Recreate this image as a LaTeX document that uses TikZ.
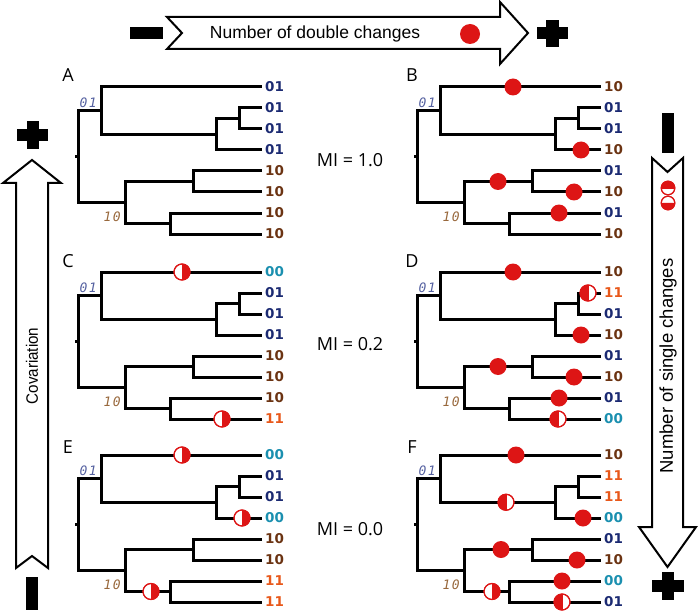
\documentclass[tikz,border=0pt]{standalone}
\usepackage{fontspec}
\setmainfont{Liberation Sans}
\newfontfamily\leaffont{DejaVu Sans}
\newfontfamily\ancfont{DejaVu Sans Mono}
\newfontfamily\mifont{Open Sans}
\definecolor{col01}{HTML}{1B2A72}
\definecolor{col10}{HTML}{6B3312}
\definecolor{col00}{HTML}{1A8FAF}
\definecolor{col11}{HTML}{E8581A}
\definecolor{ancb}{HTML}{5561A0}
\definecolor{ancbr}{HTML}{98683C}
\definecolor{dotred}{HTML}{DD1515}
\tikzset{
  branch/.style={line width=3pt, line join=miter, black},
  leaflab/.style={font={\leaffont\bfseries\fontsize{13.5pt}{13.5pt}\selectfont}, anchor=west, inner sep=0pt, text=col#1},
  anc/.style={font={\ancfont\itshape\fontsize{13pt}{13pt}\selectfont}, inner sep=0pt},
  fulldot/.style={circle, fill=dotred, inner sep=0pt, outer sep=0pt, minimum size=17pt},
  halfdot/.style={circle, draw=dotred, fill=white, line width=1.1pt, inner sep=0pt, outer sep=0pt},
  dline/.style={dotred, line width=0.9pt},
  arrowbox/.style={draw=black, line width=2pt, fill=white, line join=miter},
  bigtext/.style={font={\mifont\fontsize{18pt}{18pt}\selectfont}, inner sep=0pt},
  bar/.style={fill=black},
}
\newcommand{\phylo}[3]{%
\begin{scope}[shift={#2}]
\foreach \yy [count=\i] in {87,108,129,150,171,192,213,234}{\coordinate (#1l\i) at (262,\yy);}
\coordinate (#1W) at (239,118.5);
\coordinate (#1V) at (216,134.25);
\coordinate (#1U) at (101,110.6);
\coordinate (#1X) at (193,181.5);
\coordinate (#1Y) at (170,223.5);
\coordinate (#1L) at (125,202.5);
\coordinate (#1R) at (78,156.6);
\coordinate (#1R0) at (75,156.6);
\draw[branch] (#1R) |- (#1U) (#1R) |- (#1L) (#1U) |- (#1l1) (#1U) |- (#1V)
  (#1V) |- (#1W) (#1V) |- (#1l4) (#1W) |- (#1l2) (#1W) |- (#1l3)
  (#1L) |- (#1X) (#1L) |- (#1Y) (#1X) |- (#1l5) (#1X) |- (#1l6)
  (#1Y) |- (#1l7) (#1Y) |- (#1l8) (#1R0) -- (#1R);
\foreach \l [count=\i] in {#3}{\node[leaflab=\l] (#1t\i) at ([xshift=3pt]#1l\i) {\l};}
\node[anc, text=ancb, anchor=east] (#1au) at (97,103) {0\kern1.5pt1};
\node[anc, text=ancbr, anchor=east] (#1al) at (121,217) {1\kern1.5pt0};
\end{scope}}
\newcommand{\fdot}[2]{\node[fulldot] (#1) at (#2) {};}
\newcommand{\hdot}[4]{%
  \node[halfdot, minimum size={2*#4}] (#1) at (#2) {};
  \if#3L\fill[dotred] (#1.north) arc[start angle=90,end angle=270,radius=#4] -- cycle;\draw[dline] (#1.north) -- (#1.south);\fi
  \if#3R\fill[dotred] (#1.south) arc[start angle=-90,end angle=90,radius=#4] -- cycle;\draw[dline] (#1.north) -- (#1.south);\fi
  \if#3T\fill[dotred] (#1.east) arc[start angle=0,end angle=180,radius=#4] -- cycle;\draw[dline] (#1.east) -- (#1.west);\fi
  \if#3B\fill[dotred] (#1.west) arc[start angle=180,end angle=360,radius=#4] -- cycle;\draw[dline] (#1.east) -- (#1.west);\fi
  \draw[dotred, line width=1.1pt] (#1.center) circle[radius=#4];
}
\begin{document}
\begin{tikzpicture}[x=1pt,y=-1pt]
\useasboundingbox (0,0) rectangle (700,612);
% top arrow
\draw[arrowbox] (167,17) -- (182,33) -- (167,49) -- (500,49) -- (500,64) -- (528,33) -- (500,2) -- (500,17) -- cycle;
\node[font={\fontsize{17.5pt}{17.5pt}\selectfont}, inner sep=0pt] (toptext) at (315,34) {Number of double changes};
\node[fulldot, minimum size=20pt] (topdot) at (470,34) {};
\fill[bar] (130,27.5) rectangle (163,39.5);
\fill[bar] (537,27.5) rectangle (568,39.5);
\fill[bar] (546,20) rectangle (559,47);
% left arrow
\draw[arrowbox] (32,160) -- (61,183) -- (48,183) -- (48,568) -- (32,556) -- (16,568) -- (16,183) -- (3,183) -- cycle;
\node[font={\fontsize{16.5pt}{16.5pt}\selectfont}, inner sep=0pt, rotate=90] (lefttext) at (32,366) {\scalebox{0.92}[1]{Covariation}};
\fill[bar] (17,129) rectangle (48,141);
\fill[bar] (26.5,121) rectangle (38.5,149);
\fill[bar] (26,577) rectangle (38,610);
% right arrow
\draw[arrowbox] (652,158) -- (667.5,172) -- (683,158) -- (683,527) -- (696,527) -- (667.5,567) -- (639,527) -- (652,527) -- cycle;
\node[font={\fontsize{18.5pt}{18.5pt}\selectfont}, inner sep=0pt, rotate=90] (righttext) at (668,366) {Number of single changes};
\hdot{icT}{668,188}{T}{6.8pt}
\hdot{icB}{668,203}{B}{6.8pt}
\fill[bar] (661.5,113) rectangle (673.5,153);
\fill[bar] (652,580) rectangle (684,592);
\fill[bar] (662,572) rectangle (674,600);
% trees
\phylo{A}{(0,0)}{01,01,01,01,10,10,10,10}
\phylo{B}{(339,0)}{10,01,01,10,01,10,01,10}
\phylo{C}{(0,185)}{00,01,01,01,10,10,10,11}
\phylo{D}{(339,185)}{10,11,01,10,01,10,01,00}
\phylo{E}{(0,368)}{00,01,01,00,10,10,11,11}
\phylo{F}{(339,368)}{10,11,11,00,01,10,00,01}
% panel letters and MI
\node[bigtext] (pA) at (68,75) {A};
\node[bigtext] (pB) at (412,75) {B};
\node[bigtext] (pC) at (68,261) {C};
\node[bigtext] (pD) at (412,261) {D};
\node[bigtext] (pE) at (68,447) {E};
\node[bigtext] (pF) at (412,447) {F};
\node[bigtext] (mi1) at (350,160) {MI = 1.0};
\node[bigtext] (mi2) at (350,344) {MI = 0.2};
\node[bigtext] (mi3) at (350,529) {MI = 0.0};
% changes B
\begin{scope}[shift={(339,0)}]
\fdot{b1}{174,87}\fdot{b2}{242,150}\fdot{b3}{159,181.5}\fdot{b4}{235,192}\fdot{b5}{220,213}
\end{scope}
% C
\hdot{c1}{182,87+185}{R}{8pt}
\hdot{c2}{222,234+185}{R}{8pt}
% D
\begin{scope}[shift={(339,185)}]
\fdot{d1}{174,87}\hdot{d2}{249,108}{L}{8pt}\fdot{d3}{242,150}\fdot{d4}{159,181.5}\fdot{d5}{235,192}\fdot{d6}{220,213}\hdot{d7}{219,234}{L}{8pt}
\end{scope}
% E
\begin{scope}[shift={(0,368)}]
\hdot{e1}{182,87}{R}{8pt}\hdot{e2}{242,150}{R}{8pt}\hdot{e3}{151,223.5}{R}{8pt}
\end{scope}
% F
\begin{scope}[shift={(339,368)}]
\fdot{f1}{177,87}\hdot{f2}{167,134.25}{L}{8pt}\fdot{f3}{244,150}\fdot{f4}{162,181.5}\fdot{f5}{238,192}\fdot{f6}{223,213}\hdot{f7}{153,223.5}{R}{8pt}\hdot{f8}{223,234}{L}{8pt}
\end{scope}
\end{tikzpicture}
\end{document}
